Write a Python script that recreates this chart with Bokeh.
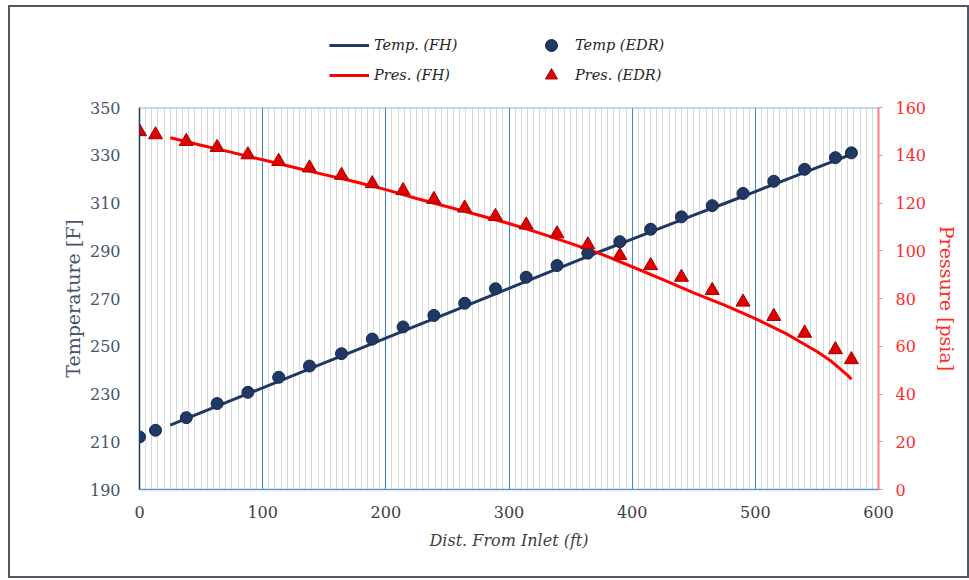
from bokeh.plotting import figure
from bokeh.layouts import column
from bokeh.models import Range1d, LinearAxis, FixedTicker, Legend, LegendItem, Span
from bokeh.embed import file_html
from bokeh.resources import INLINE

# ---------------- data ----------------
x_ticks = [0, 100, 200, 300, 400, 500, 600]
temp_ticks = [190, 210, 230, 250, 270, 290, 310, 330, 350]
pres_ticks = [0, 20, 40, 60, 80, 100, 120, 140, 160]

# EDR measurements (markers)
x_edr = [0, 13, 38, 63, 88, 113, 138, 164, 189, 214, 239, 264, 289, 314, 339,
         364, 390, 415, 440, 465, 490, 515, 540, 565, 578]
temp_edr = [212.0, 214.8, 220.1, 226.0, 230.7, 237.0, 241.7, 246.9, 253.0, 258.1,
            262.9, 268.0, 274.1, 278.9, 283.8, 289.0, 293.8, 299.0, 304.2, 308.9,
            314.0, 319.1, 324.1, 329.0, 331.0]
pres_edr = [149.9, 148.6, 145.8, 143.3, 140.2, 137.4, 134.7, 131.6, 128.1, 125.2,
            121.5, 117.9, 114.4, 110.8, 107.1, 102.5, 98.0, 93.8, 88.9, 83.4,
            78.5, 72.5, 65.5, 58.6, 54.4]

# FH model (lines)
x_fh = [25, 50, 75, 100, 125, 150, 175, 200, 225, 250, 275, 300, 325, 350, 375,
        400, 425, 450, 475, 500, 525, 537, 550, 562, 575, 578]
temp_fh = [217.0, 222.2, 227.4, 232.6, 237.8, 243.0, 248.2, 253.4, 258.6, 263.8,
           269.0, 274.2, 279.5, 284.7, 289.9, 294.9, 299.9, 304.9, 309.8, 314.8,
           319.8, 322.2, 324.8, 327.2, 329.8, 330.4]
pres_fh = [147.3, 144.2, 141.2, 138.1, 135.0, 131.9, 128.9, 125.6, 121.9, 118.4,
           115.0, 111.4, 107.4, 103.1, 98.6, 93.3, 87.9, 82.4, 77.2, 71.6,
           65.3, 61.7, 57.8, 53.6, 47.8, 46.2]

SERIF = "DejaVu Serif"
NAVY = "#1F3864"
LINE_NAVY = "#203864"
RED = "#FF0000"
TRI_FILL, TRI_LINE = "#E00000", "#A00000"
DOT_LINE = "#162A4E"

# ---------------- main chart ----------------
p = figure(width=957, height=479, output_backend="svg", toolbar_location=None,
           x_range=Range1d(0, 600), y_range=Range1d(temp_ticks[0], temp_ticks[-1]),
           min_border_left=129, min_border_right=89, min_border_top=10,
           min_border_bottom=87, background_fill_color="white",
           border_fill_color="white")
p.outline_line_color = None
p.extra_y_ranges = {"pres": Range1d(pres_ticks[0], pres_ticks[-1])}

# grid
minor = [m for m in range(0, 601, 5) if m % 100 != 0]
xt = FixedTicker(ticks=x_ticks, minor_ticks=minor)
p.xaxis.ticker = xt
p.xgrid.ticker = xt
p.xgrid.grid_line_color = "#3A87CC"
p.xgrid.grid_line_width = 1
p.xgrid.minor_grid_line_color = "#D9D9D9"
p.xgrid.minor_grid_line_width = 1
p.ygrid.visible = False

# top edge line of plot area
p.add_layout(Span(location=temp_ticks[-1], dimension="width",
                  line_color="#8DB8E2", line_width=2))

# x axis
xa = p.xaxis[0]
xa.axis_line_color = "#5B9BD5"
xa.axis_line_width = 1.5
xa.major_tick_line_color = None
xa.minor_tick_line_color = None
xa.major_label_text_font = SERIF
xa.major_label_text_font_size = "16px"
xa.major_label_text_color = "#404040"
xa.major_label_standoff = 10
xa.axis_label = "Dist. From Inlet (ft)"
xa.axis_label_text_font = SERIF
xa.axis_label_text_font_style = "italic"
xa.axis_label_text_font_size = "16px"
xa.axis_label_text_color = "#404040"
xa.axis_label_standoff = 10

# left axis
ya = p.yaxis[0]
ya.ticker = FixedTicker(ticks=temp_ticks)
ya.axis_line_color = NAVY
ya.axis_line_width = 1.5
ya.major_tick_line_color = None
ya.minor_tick_line_color = None
ya.major_label_text_font = SERIF
ya.major_label_text_font_size = "16px"
ya.major_label_text_color = "#44546A"
ya.major_label_standoff = 13
ya.axis_label = "Temperature [F]"
ya.axis_label_text_font = SERIF
ya.axis_label_text_font_style = "normal"
ya.axis_label_text_font_size = "19px"
ya.axis_label_text_color = "#44546A"
ya.axis_label_standoff = 3

# right axis
ra = LinearAxis(y_range_name="pres", ticker=FixedTicker(ticks=pres_ticks))
ra.axis_line_color = "#FF7C80"
ra.axis_line_width = 2
ra.major_tick_line_color = "#FF7C80"
ra.major_tick_out = 4
ra.major_tick_in = 0
ra.minor_tick_line_color = None
ra.major_label_text_font = SERIF
ra.major_label_text_font_size = "16px"
ra.major_label_text_color = "#FF2B2B"
ra.major_label_standoff = 13
ra.axis_label = "Pressure [psia]"
ra.axis_label_orientation = "vertical"
ra.axis_label_text_font = SERIF
ra.axis_label_text_font_style = "normal"
ra.axis_label_text_font_size = "19px"
ra.axis_label_text_color = "#FF2B2B"
ra.axis_label_standoff = 7
p.add_layout(ra, "right")

# data
p.line(x_fh, temp_fh, line_color=LINE_NAVY, line_width=3)
p.line(x_fh, pres_fh, y_range_name="pres", line_color=RED, line_width=3)
p.scatter(x_edr, temp_edr, marker="circle", size=12,
          fill_color=NAVY, line_color=DOT_LINE, line_width=1)
p.scatter(x_edr, pres_edr, y_range_name="pres", marker="triangle", size=14,
          fill_color=TRI_FILL, line_color=TRI_LINE, line_width=1)

# ---------------- legend strip above the chart ----------------
# The strip shows the same series (all outside its 0..1 view), only for their keys.
lf = figure(width=957, height=90, output_backend="svg", toolbar_location=None,
            x_range=Range1d(0, 1), y_range=Range1d(0, 1),
            x_axis_type=None, y_axis_type=None, min_border=0,
            background_fill_color="white", border_fill_color="white")
lf.outline_line_color = None
lf.grid.visible = False
k_tl = lf.line(x_fh, temp_fh, line_color=LINE_NAVY, line_width=3)
k_pl = lf.line(x_fh, pres_fh, line_color=RED, line_width=3)
k_tc = lf.scatter(x_edr, temp_edr, marker="circle", size=11,
                  fill_color=NAVY, line_color=DOT_LINE, line_width=1)
k_pt = lf.scatter(x_edr, pres_edr, marker="triangle", size=13,
                  fill_color=TRI_FILL, line_color=TRI_LINE, line_width=1)

def make_legend(items, loc, gw, standoff):
    lg = Legend(items=items, location=loc, orientation="vertical",
                glyph_width=gw, glyph_height=30, label_height=30, spacing=0,
                label_standoff=standoff, padding=0, margin=0,
                border_line_color=None, background_fill_alpha=0,
                label_text_font=SERIF, label_text_font_style="italic",
                label_text_font_size="14.5px", label_text_color="#262626")
    lf.add_layout(lg, "center")

make_legend([LegendItem(label="Temp. (FH)", renderers=[k_tl]),
             LegendItem(label="Pres. (FH)", renderers=[k_pl])], (190, 7), 40, 5)
make_legend([LegendItem(label="Temp (EDR)", renderers=[k_tc]),
             LegendItem(label="Pres. (EDR)", renderers=[k_pt])], (397, 7), 30, 9)

layout = column(lf, p, spacing=0,
                styles={"border": "2px solid #4D5866", "margin-left": "8px",
                        "margin-top": "5px", "background-color": "white"})

open("out.html", "w").write(file_html(layout, INLINE))
